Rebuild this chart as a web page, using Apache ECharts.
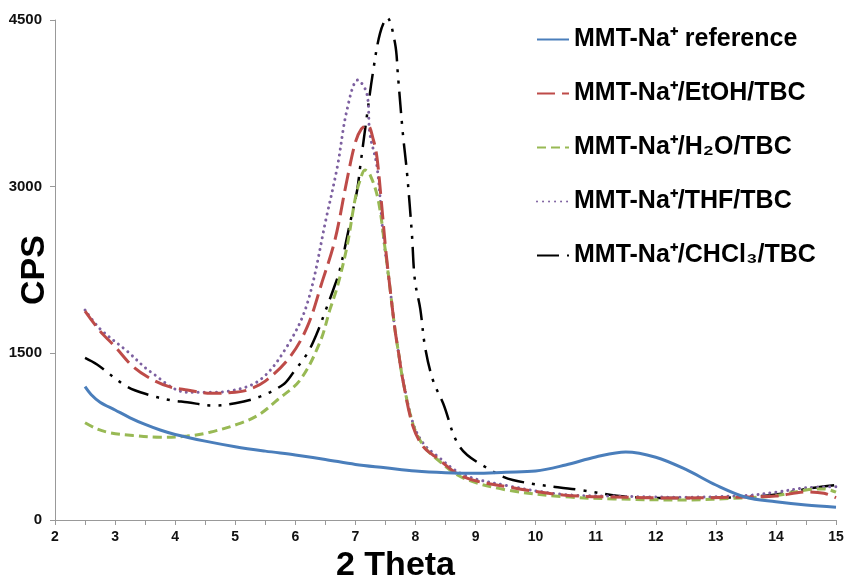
<!DOCTYPE html>
<html>
<head>
<meta charset="utf-8">
<script src="https://cdn.jsdelivr.net/npm/echarts@6/dist/echarts.min.js"></script>
<style>
html,body{margin:0;padding:0;background:#fff;}
#c{width:845px;height:581px;}
</style>
</head>
<body>
<div id="c"></div>
<script>
var seriesNames = ['MMT-Na⁺ reference', 'MMT-Na⁺/EtOH/TBC', 'MMT-Na⁺/H₂O/TBC', 'MMT-Na⁺/THF/TBC', 'MMT-Na⁺/CHCl₃/TBC'];
var xTicks = [2,3,4,5,6,7,8,9,10,11,12,13,14,15];
var yTicks = [0,1500,3000,4500];

var refX = [2.5,2.6,2.75,3,3.25,3.5,3.75,4,4.5,5,5.5,6,6.5,7,7.5,8,8.5,9,9.5,10,10.5,11,11.5,12,12.5,13,13.5,14,14.5,15];
var refY = [1200,1130,1060,990,920,860,810,770,710,660,620,585,545,500,470,440,425,420,430,440,495,567,612,565,455,315,205,165,135,115];

var etohX = [2.5,2.75,3,3.3,3.6,3.9,4.2,4.6,5.0,5.2,5.5,5.9,6.2,6.45,6.66,6.86,7.0,7.1,7.2,7.3,7.36,7.44,7.5,7.58,7.66,7.72,7.79,7.96,8.13,8.33,8.79,9.52,10.46,11.3,12.4,13.5,14,14.5,14.8,15];
var etohY = [1880,1700,1560,1380,1270,1200,1170,1140,1150,1170,1250,1460,1740,2150,2520,3060,3400,3520,3555,3420,3260,2820,2460,2070,1710,1500,1260,840,660,570,390,300,225,207,198,207,215,252,240,200];

var h2oX = [2.5,2.7,2.92,3.3,3.75,4.2,4.58,5.08,5.4,5.7,6.08,6.41,6.58,6.7,6.86,7.0,7.08,7.16,7.25,7.38,7.49,7.58,7.66,7.72,7.79,7.96,8.13,8.33,8.79,9.52,10.46,11.3,12.4,13.5,14,14.5,14.8,15];
var h2oY = [875,820,785,760,745,755,790,870,950,1080,1260,1600,1900,2100,2460,2900,3060,3150,3100,2880,2460,2070,1710,1500,1260,860,670,560,380,270,210,190,180,200,220,270,280,250];

var thfX = [2.5,2.75,3.2,3.6,4.2,4.6,4.9,5.41,5.86,6.2,6.52,6.7,6.86,7.04,7.19,7.24,7.36,7.46,7.58,7.66,7.72,7.79,7.96,8.13,8.33,8.79,9.52,10.46,11.3,12.4,13.5,14,14.5,15];
var thfY = [1890,1720,1520,1330,1150,1150,1160,1260,1560,1950,2730,3180,3690,3960,3840,3480,3180,2580,2070,1710,1500,1270,870,690,590,410,310,230,215,205,220,250,290,300];

var chclX = [2.5,2.7,3.2,3.6,3.91,4.2,4.63,5.0,5.41,5.8,5.96,6.2,6.36,6.5,6.63,6.74,6.91,7.03,7.08,7.19,7.29,7.41,7.53,7.66,7.71,7.79,7.86,7.94,7.99,8.08,8.16,8.29,8.46,8.74,9.19,9.62,10.74,11.57,12.4,13.5,14,14.6,15];
var chclY = [1460,1400,1200,1120,1080,1060,1030,1050,1110,1220,1323,1500,1680,1880,2070,2250,2670,2970,3180,3630,4020,4380,4520,4290,3990,3480,3120,2580,2160,1900,1557,1260,1050,657,468,360,270,207,198,207,230,288,315];

function pairs(xs, ys){ return xs.map(function(x,i){ return [x, ys[i]]; }); }

var colors = ['#4A7EBB', '#BE4B48', '#98B954', '#7D60A0', '#000000'];
var styles = [
  {width: 3, type: 'solid'},
  {width: 3, type: [18, 7]},
  {width: 3, type: [9, 5]},
  {width: 3, type: [0.01, 6], cap: 'round'},
  {width: 2.5, type: [22, 8, 3, 8, 3, 8]}
];
var datas = [pairs(refX, refY), pairs(etohX, etohY), pairs(h2oX, h2oY), pairs(thfX, thfY), pairs(chclX, chclY)];

var series = seriesNames.map(function(n, i){
  return {
    name: n, type: 'line', data: datas[i], showSymbol: false, symbol: 'none',
    smooth: 0.35, clip: false, z: 10 - i,
    lineStyle: Object.assign({color: colors[i]}, styles[i]),
    itemStyle: {color: colors[i]}
  };
});

var chart = echarts.init(document.getElementById('c'), null, {renderer: 'canvas'});
chart.setOption({
  animation: false,
  backgroundColor: '#fff',
  grid: {left: 55, right: 9, top: 20, bottom: 61, containLabel: false, outerBoundsMode: 'none'},
  legend: {
    orient: 'vertical', left: 531, top: 22, itemGap: 29,
    itemWidth: 32, itemHeight: 14,
    data: seriesNames,
    itemStyle: {opacity: 0},
    textStyle: {fontFamily: 'Liberation Sans, Arial, sans-serif', fontWeight: 'bold', fontSize: 25, color: '#000'}
  },
  xAxis: {
    type: 'value', min: 2, max: 15, interval: 1,
    name: '2 Theta', nameLocation: 'middle', nameGap: 29, nameMoveOverlap: false,
    nameTextStyle: {fontFamily: 'Liberation Sans, Arial, sans-serif', fontWeight: 'bold', fontSize: 34, color: '#000', padding: [0, 100, 0, 0]},
    axisLine: {lineStyle: {color: '#999', width: 1}},
    axisTick: {show: true, length: 5, lineStyle: {color: '#999'}},
    minorTick: {show: true, splitNumber: 2, length: 5, lineStyle: {color: '#999'}},
    splitLine: {show: false},
    axisLabel: {margin: 10, fontFamily: 'Liberation Sans, Arial, sans-serif', fontWeight: 'bold', fontSize: 14, color: '#111',
      formatter: function(v){ return xTicks.indexOf(v) >= 0 ? String(v) : ''; }}
  },
  yAxis: {
    type: 'value', min: 0, max: 4500, interval: 1500,
    name: 'CPS', nameLocation: 'middle', nameGap: 3, nameMoveOverlap: false,
    nameTextStyle: {fontFamily: 'Liberation Sans, Arial, sans-serif', fontWeight: 'bold', fontSize: 34, color: '#000'},
    axisLine: {show: true, lineStyle: {color: '#999', width: 1}},
    axisTick: {show: true, length: 5, lineStyle: {color: '#999'}},
    splitLine: {show: false},
    axisLabel: {margin: 13, fontFamily: 'Liberation Sans, Arial, sans-serif', fontWeight: 'bold', fontSize: 15, color: '#111',
      formatter: function(v){ return yTicks.indexOf(v) >= 0 ? String(v) : ''; }}
  },
  series: series
});
</script>
</body>
</html>
